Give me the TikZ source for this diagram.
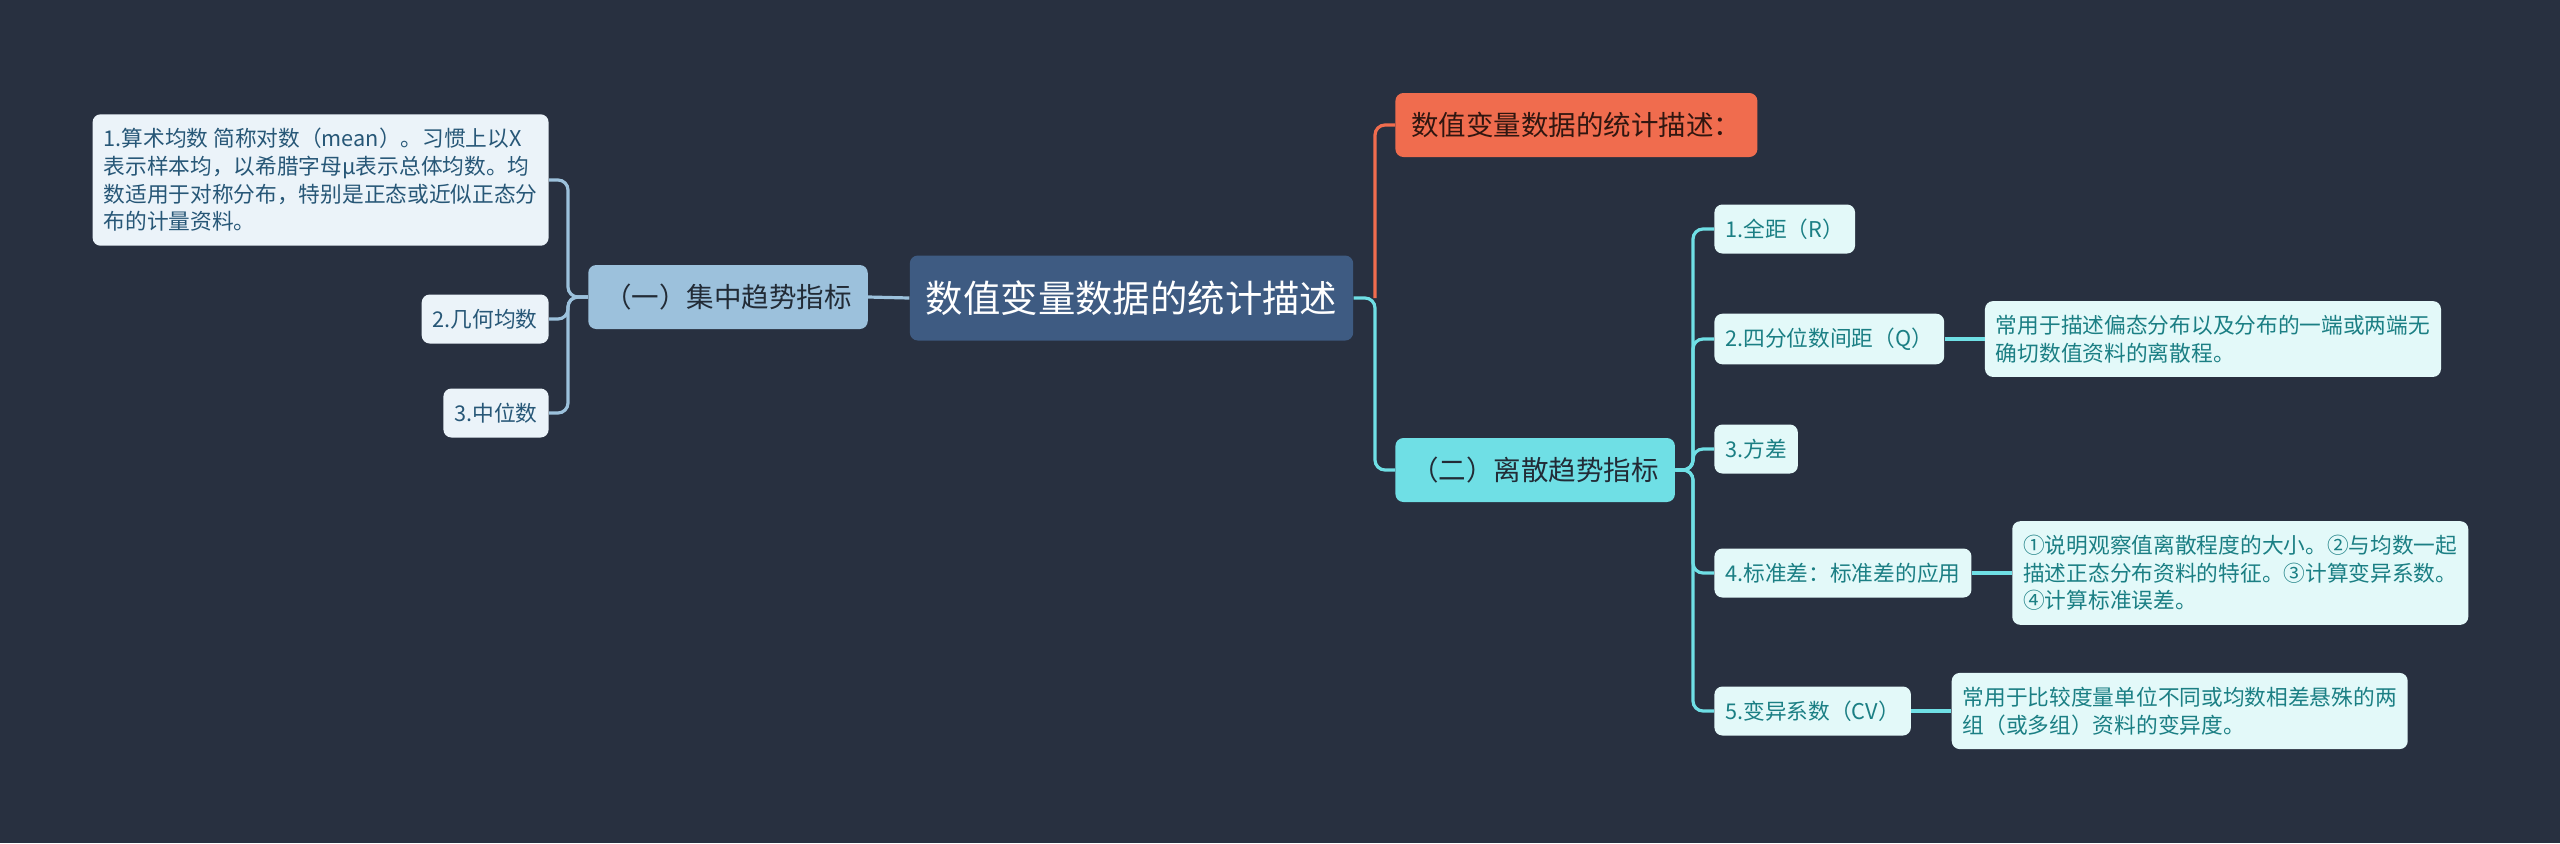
\documentclass[tikz,border=0pt]{standalone}
\usepackage{fontspec}
\setmainfont{Noto Sans CJK SC}
\usepackage{xcolor}
\usepackage{tikz}
\usetikzlibrary{positioning}

\definecolor{bgnavy}{HTML}{283040}
\definecolor{rootblue}{HTML}{3E5B82}
\definecolor{skyblue}{HTML}{9CC1DC}
\definecolor{paleblue}{HTML}{EBF3F9}
\definecolor{inkblue}{HTML}{275777}
\definecolor{coral}{HTML}{F06C4E}
\definecolor{aqua}{HTML}{6FDFE5}
\definecolor{paleaqua}{HTML}{E3F9F9}
\definecolor{inkteal}{HTML}{1B7F84}
\definecolor{inkdark}{HTML}{222B36}

\begin{document}
\begin{tikzpicture}[
      x=0.5pt, y=-0.5pt,
      box/.style={rounded corners=4pt, inner xsep=5.5pt, inner ysep=7pt, align=left},
      rootbox/.style={box, fill=rootblue, text=white, inner xsep=8pt,
        font=\fontsize{18.7}{22}\selectfont, minimum height=42.5pt},
      branchbox/.style={box, text=inkdark, inner xsep=8pt,
        font=\fontsize{13.75}{16}\selectfont, minimum height=32pt},
      leftleaf/.style={box, fill=paleblue, text=inkblue,
        font=\fontsize{10.85}{13.85}\selectfont, minimum height=24.5pt},
      rightleaf/.style={leftleaf, fill=paleaqua, text=inkteal},
      link/.style={line width=1.6pt, rounded corners=5pt}
    ]
      \fill[bgnavy] (0,0) rectangle (2560,843);
      \useasboundingbox (0,0) rectangle (2560,843);

      % centre and main branches
      \node[rootbox] (root) at (1131.5,298) {数值变量数据的统计描述};
      \node[branchbox, fill=skyblue] (central) at (728,297) {（一）集中趋势指标};
      \node[branchbox, fill=coral, text=black!80!coral, anchor=west] (title) at (1395,125) {数值变量数据的统计描述：};
      \node[branchbox, fill=aqua, anchor=west] (spread) at (1395,470) {（二）离散趋势指标};

      % central tendency
      \node[leftleaf, anchor=east] (mean) at (549,180) {1.算术均数 简称对数（mean）。习惯上以X\\表示样本均，以希腊字母μ表示总体均数。均\\数适用于对称分布，特别是正态或近似正态分\\布的计量资料。};
      \node[leftleaf, anchor=east] (geomean) at (549,319) {2.几何均数};
      \node[leftleaf, anchor=east] (median) at (549,413) {3.中位数};

      % dispersion
      \node[rightleaf, anchor=west] (range) at (1714,229) {1.全距（R）};
      \node[rightleaf, anchor=west] (iqr) at (1714,339) {2.四分位数间距（Q）};
      \node[rightleaf, anchor=west] (variance) at (1714,449) {3.方差};
      \node[rightleaf, anchor=west] (stddev) at (1714,573) {4.标准差：标准差的应用};
      \node[rightleaf, anchor=west] (cv) at (1714,711) {5.变异系数（CV）};
      \node[rightleaf, right=20pt of iqr] (iqrnote) {常用于描述偏态分布以及分布的一端或两端无\\确切数值资料的离散程。};
      \node[rightleaf, right=20pt of stddev] (stdnote) {①说明观察值离散程度的大小。②与均数一起\\描述正态分布资料的特征。③计算变异系数。\\④计算标准误差。};
      \node[rightleaf, right=20pt of cv] (cvnote) {常用于比较度量单位不同或均数相差悬殊的两\\组（或多组）资料的变异度。};

      % forks
      \coordinate (lfork) at (568,297);
      \coordinate (rootfork) at (1375,298);
      \coordinate (rfork) at (1693,470);

      % connectors
      \draw[link, skyblue] (root.west) -- (central.east);
      \foreach \leaf in {mean, geomean, median}
        \draw[link, skyblue] (central.west) -- (lfork) |- (\leaf.east);
      \draw[link, coral] (rootfork) |- (title.west);
      \draw[link, aqua] (root.east) -- (rootfork) |- (spread.west);
      \foreach \leaf in {range, iqr, variance, stddev, cv}
        \draw[link, aqua] (spread.east) -- (rfork) |- (\leaf.west);
      \draw[link, aqua] (iqr.east) -- (iqrnote.west);
      \draw[link, aqua] (stddev.east) -- (stdnote.west);
      \draw[link, aqua] (cv.east) -- (cvnote.west);
    \end{tikzpicture}
\end{document}
